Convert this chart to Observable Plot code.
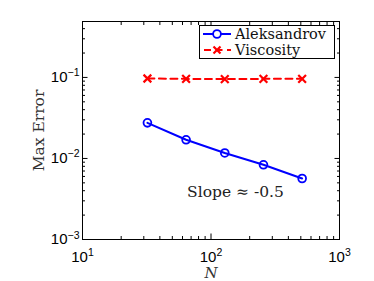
<!DOCTYPE html>
<html><head><meta charset="utf-8">
<script src="https://cdn.jsdelivr.net/npm/d3@7"></script>
<script src="https://cdn.jsdelivr.net/npm/@observablehq/plot@0.6"></script>
<style>
body{margin:0;background:#fff;}
#wrap{position:relative;width:374px;height:281px;}
#wrap svg.plot{position:absolute;left:0;top:0;}
g[aria-label="y-axis label"] text, g[aria-label="x-axis label"] text{font-family:"DejaVu Serif";font-size:15.5px;fill:#333;}
g[aria-label="x-axis label"] text{font-style:italic;font-size:15px;}
g[aria-label="x-axis tick label"] text, g[aria-label="y-axis tick label"] text{font-family:"Liberation Sans";font-size:15px;fill:#000;}
#legend{position:absolute;left:199px;top:25px;width:134px;height:32px;border:1px solid #000;background:#fff;}
#legend .row{display:flex;align-items:center;height:16px;}
#legend span{font-family:"DejaVu Serif";font-size:14.5px;line-height:15px;color:#111;white-space:nowrap;}
#legend svg{display:block;margin-left:3px;margin-right:4px;}
</style></head><body><div id="wrap"></div>
<script>
const N = [32, 64, 128, 256, 512];
const aleksandrov = [0.0275, 0.0170, 0.0117, 0.00835, 0.00566];
const viscosity = [0.097, 0.096, 0.0955, 0.096, 0.096];
const seriesNames = ["Aleksandrov", "Viscosity"];
const xMajor = [10, 100, 1000];
const yMajor = [1e-3, 1e-2, 1e-1];
const xMinor = [20,30,40,50,60,70,80,90,200,300,400,500,600,700,800,900];
const yMinor = [2e-3,3e-3,4e-3,5e-3,6e-3,7e-3,8e-3,9e-3,2e-2,3e-2,4e-2,5e-2,6e-2,7e-2,8e-2,9e-2,2e-1,3e-1,4e-1];
const xDomain = [10, 1000];
const yDomain = [1e-3, 0.49];
const xLabel = "N";
const yLabel = "Max Error";
const slopeNote = {x: 155, y: 0.0038, text: "Slope ≈ -0.5"};

const rowsA = N.map((n, i) => ({N: n, err: aleksandrov[i]}));
const rowsV = N.map((n, i) => ({N: n, err: viscosity[i]}));
const expFmt = d => "10^" + Math.round(Math.log10(d));
const blank = () => "";

const tickMarks = (xt, yt, size) => [
  Plot.axisX(xt, {anchor: "bottom", tickSize: -size, tickFormat: blank, label: null}),
  Plot.axisX(xt, {anchor: "top", tickSize: -size, tickFormat: blank, label: null}),
  Plot.axisY(yt, {anchor: "left", tickSize: -size, tickFormat: blank, label: null}),
  Plot.axisY(yt, {anchor: "right", tickSize: -size, tickFormat: blank, label: null})
];

const svg = Plot.plot({
  width: 374, height: 281,
  marginLeft: 82, marginRight: 35, marginTop: 21, marginBottom: 42,
  style: {fontFamily: "Liberation Sans", fontSize: "15px", color: "#000", background: "transparent"},
  x: {type: "log", domain: xDomain},
  y: {type: "log", domain: yDomain},
  marks: [
    ...tickMarks(xMinor, yMinor, 3),
    ...tickMarks(xMajor, yMajor, 5.5),
    Plot.axisX(xMajor, {anchor: "bottom", tickSize: 0, tickPadding: 12, tickFormat: expFmt, label: xLabel, labelAnchor: "center", labelOffset: 38, labelArrow: "none"}),
    Plot.axisY(yMajor, {anchor: "left", tickSize: 0, tickPadding: 3, tickFormat: expFmt, label: yLabel, labelAnchor: "center", labelOffset: 50, labelArrow: "none"}),
    Plot.frame({stroke: "#000", strokeWidth: 1}),
    Plot.line(rowsV, {x: "N", y: "err", stroke: "#ff0000", strokeWidth: 2, strokeDasharray: "7,4.5"}),
    Plot.dot(rowsV, {x: "N", y: "err", symbol: "times", r: 3.6, stroke: "#ff0000", strokeWidth: 2.2}),
    Plot.line(rowsA, {x: "N", y: "err", stroke: "#0000ff", strokeWidth: 2}),
    Plot.dot(rowsA, {x: "N", y: "err", symbol: "circle", r: 3.9, stroke: "#0000ff", strokeWidth: 1.8, fill: "none"}),
    Plot.text([slopeNote], {x: "x", y: "y", text: "text", fontFamily: "DejaVu Serif", fontSize: 15.5, fill: "#222"})
  ]
});

// superscript exponents in tick labels
d3.select(svg).selectAll('g[aria-label="x-axis tick label"] text, g[aria-label="y-axis tick label"] text').each(function() {
  const t = this.textContent;
  if (!t.startsWith("10^")) return;
  const e = t.slice(3).replace("-", "\u2212");
  const sel = d3.select(this);
  sel.text(null);
  sel.append("tspan").text("10");
  sel.append("tspan").attr("dy", "-0.55em").attr("font-size", "10.5px").text(e);
});

const wrap = document.getElementById("wrap");
wrap.appendChild(svg);
svg.classList.add("plot");

const legend = document.createElement("div");
legend.id = "legend";
legend.innerHTML =
  `<div class="row"><svg width="28" height="16"><line x1="0" x2="28" y1="8" y2="8" stroke="#0000ff" stroke-width="2"/><circle cx="14" cy="8" r="3.9" fill="#fff" stroke="#0000ff" stroke-width="1.8"/></svg><span>${seriesNames[0]}</span></div>` +
  `<div class="row"><svg width="28" height="16"><line x1="0" x2="28" y1="8" y2="8" stroke="#ff0000" stroke-width="2" stroke-dasharray="7,4.5" stroke-dashoffset="-1"/><path d="M10.5,4.5L17.5,11.5M17.5,4.5L10.5,11.5" stroke="#ff0000" stroke-width="2.2"/></svg><span>${seriesNames[1]}</span></div>`;
wrap.appendChild(legend);
</script>
</body></html>
